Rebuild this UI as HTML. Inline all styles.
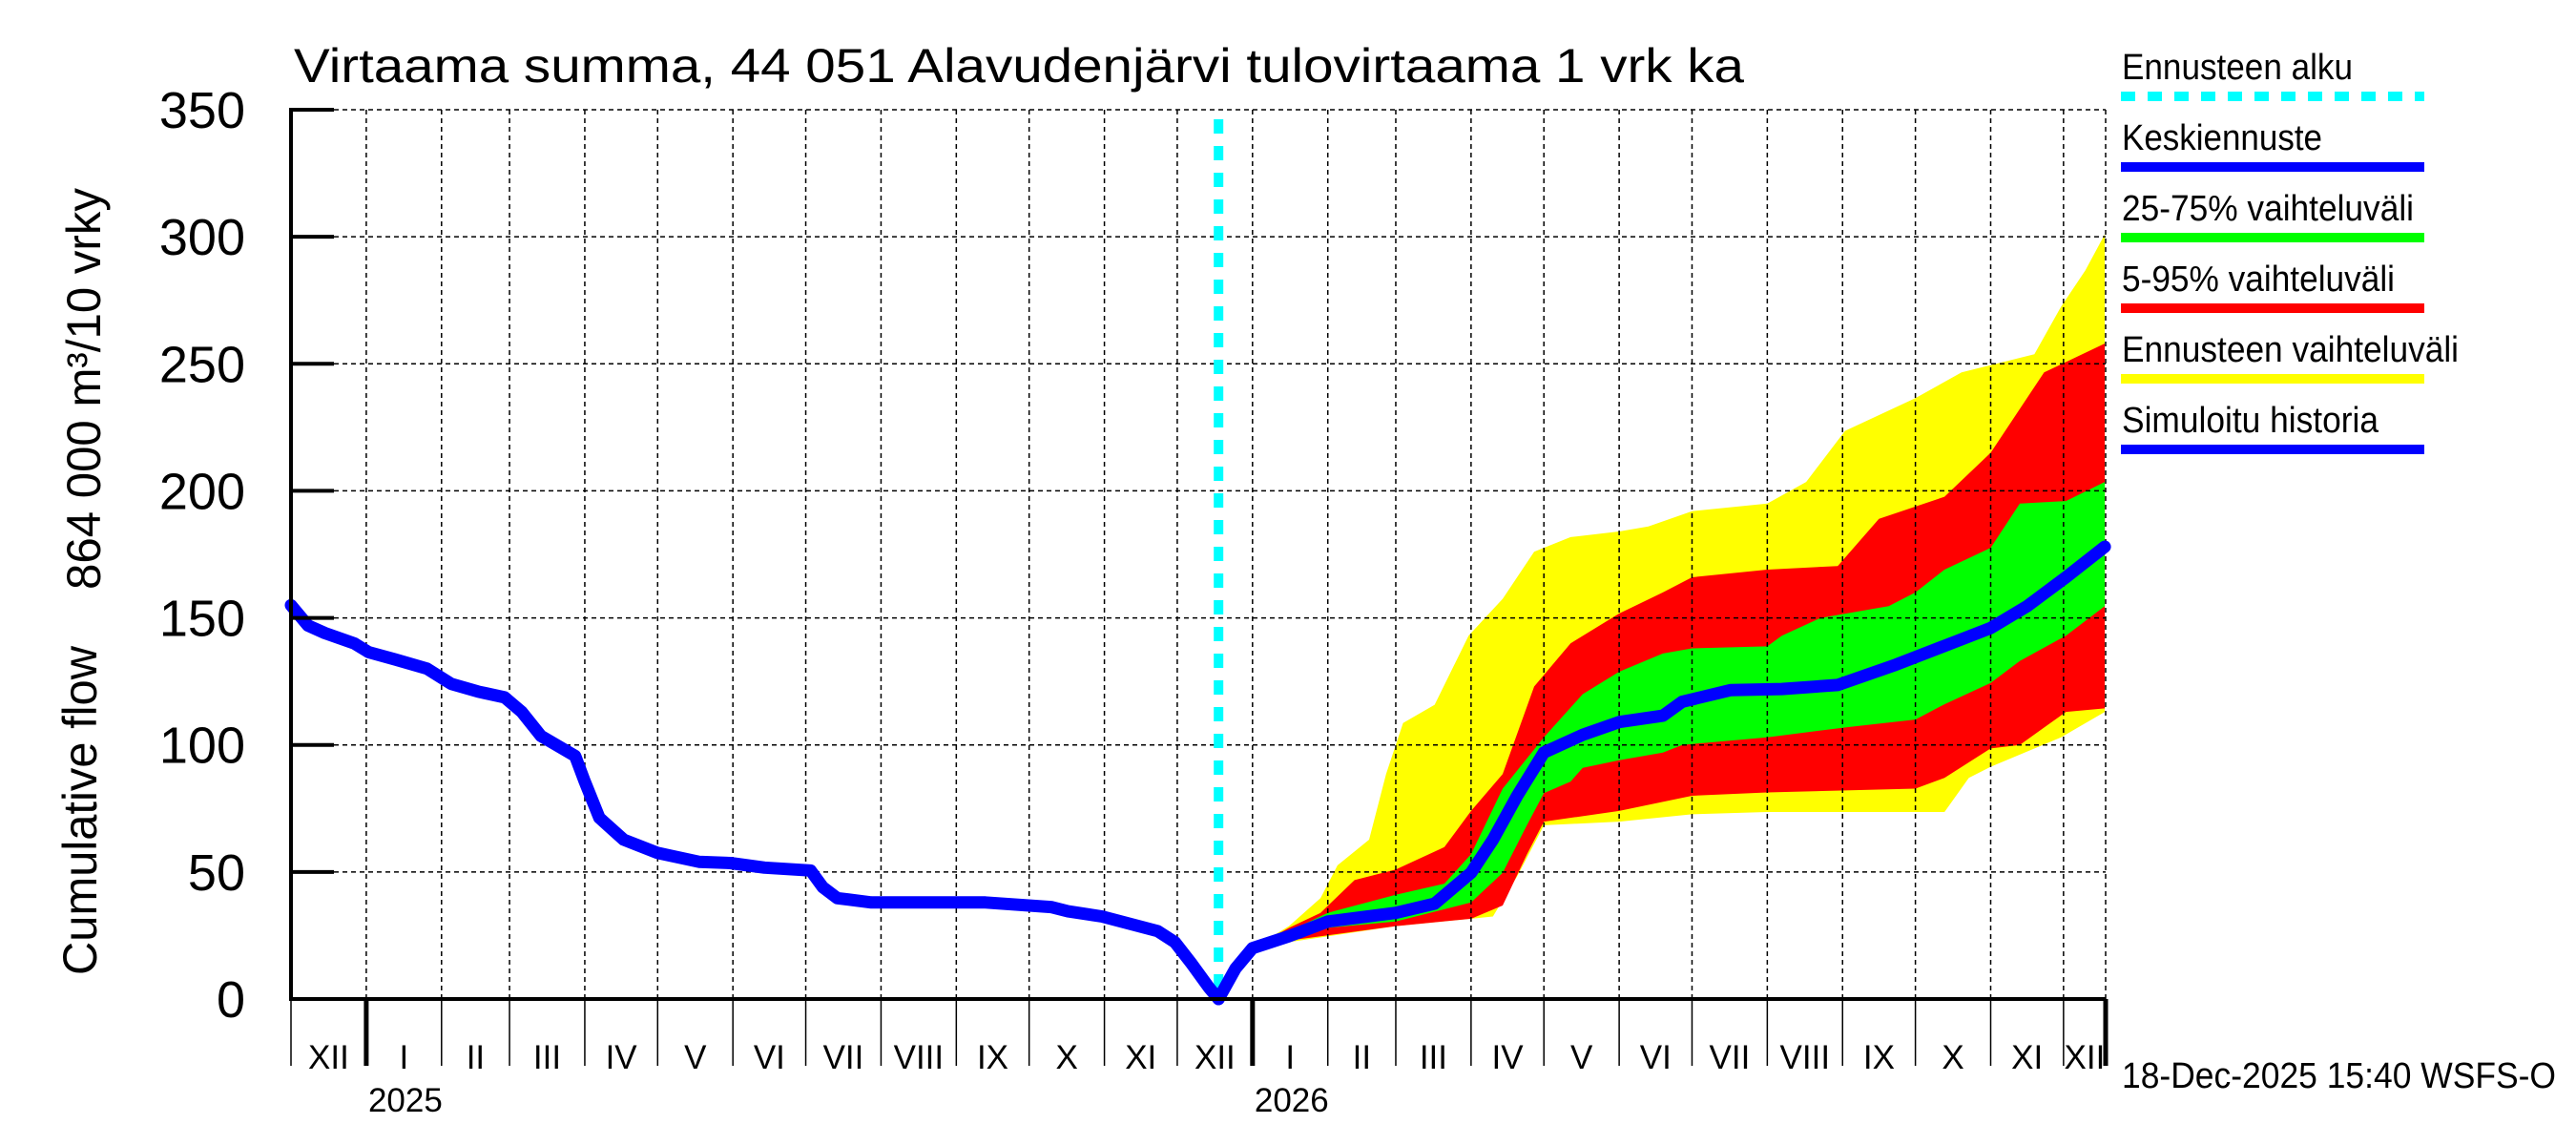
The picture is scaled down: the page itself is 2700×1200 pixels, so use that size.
<!DOCTYPE html>
<html><head><meta charset="utf-8">
<style>
html,body{margin:0;padding:0;background:#fff;}
svg{display:block;font-family:"Liberation Sans",sans-serif;}
</style></head>
<body>
<svg id="chart" width="2700" height="1200" viewBox="0 0 2700 1200" xmlns="http://www.w3.org/2000/svg">
<rect x="0" y="0" width="2700" height="1200" fill="#fff"/>
<text x="308" y="86" font-size="50" textLength="1520" lengthAdjust="spacingAndGlyphs">Virtaama summa, 44 051 Alavudenjärvi tulovirtaama 1 vrk ka</text>
<g id="bands"></g>
<g id="grid"></g>
<g id="lines"></g>
<g id="axes"></g>
<g id="legend"></g>
<text x="0" y="0" font-size="50" textLength="345" lengthAdjust="spacingAndGlyphs" transform="translate(101,1022) rotate(-90)">Cumulative flow</text>
<text x="0" y="0" font-size="50" textLength="421" lengthAdjust="spacingAndGlyphs" transform="translate(105,618) rotate(-90)">864 000 m³/10 vrky</text>
<text x="2224" y="1140" font-size="38" textLength="455" lengthAdjust="spacingAndGlyphs">18-Dec-2025 15:40 WSFS-O</text>
</svg>
<script>
// ---- data (day = days since 1 Dec 2024) ----
const histDays = [0,7,14,26,32,43,56,66,77,88,95,103,117,121,127,137,151,168,181,195,214,219,225,239,286,313,320,334,357,364,371,378,382];
const histVals = [155,147,144,140,136.5,133.6,130,124,121,118.7,113,103.5,95.7,85.6,71.3,62.7,57.5,54,53.5,51.7,50.6,44,39.7,38,38,36.2,34.5,32.5,26.7,22.4,13.8,4.6,0];
const medDays = [382,389,396,411,427,455,471,486,495,505,516,532,547,565,573,593,614,637,661,681,700,715,731,747];
const medVals = [0,12,20,24.7,30.5,33.9,37.5,49.7,62.7,80,97,104,109,111.5,117,121.6,122,123.6,131.6,139,146,154.6,166,178];
const p75Days = [382,396,411,427,455,475,486,499,516,532,547,565,577,608,614,630,658,669,681,700,712,731,747];
const p75Vals = [0,20,26.7,33.9,41,45.4,57,82.8,103,120,128.8,136,138,138.8,143,150,154.6,160,169,177.6,195,196,203.5];
const p25Days = [382,396,411,427,455,486,499,509,516,527,532,547,565,573,608,641,669,681,700,712,731,747];
const p25Vals = [0,20,24,28,30.5,38,49.7,68.4,81,85.6,91,94,97,100,103,107,110,116,124.4,133,143,154.6];
const p95Days = [382,396,411,424,438,455,475,486,499,512,527,547,565,577,608,637,654,681,700,722,747];
const p95Vals = [0,20,28,33.9,46.8,51,59.8,74,88.5,123,140,151.7,160,166,169,170.4,189,197.7,215,246.6,258];
const p05Days = [382,396,411,455,486,499,509,516,547,577,608,669,681,700,712,731,747];
const p05Vals = [0,20,23,28.7,31.6,36.8,56.9,69.8,74,80,81.3,82.8,87,98.6,100,113,114.4];
const maxDays = [382,396,411,424,431,444,451,458,471,485,499,512,527,547,559,577,608,624,640,669,688,718,729,739,747];
const maxVals = [0,20,28.7,39.7,52.6,62.7,88.5,108.6,115.8,143,157.5,176,181.8,184,186,192,195,203.5,223.6,236.5,246.6,253.8,272.5,286.8,301];
const minDays = [382,396,411,455,486,495,505,516,547,577,608,681,691,700,729,747];
const minVals = [0,20,22.4,28.7,31.6,32.5,48.3,68.4,69.8,72.7,73.6,73.6,87,91.4,103,113];
const forecastStartDay = 382;
const yTicks = [0,50,100,150,200,250,300,350];
const monthLabels = ["XII","I","II","III","IV","V","VI","VII","VIII","IX","X","XI","XII","I","II","III","IV","V","VI","VII","VIII","IX","X","XI","XII"];
const yearLabels = ["2025","2026"];

// ---- scales ----
const X0 = 305, X1 = 2207, PXD = 2.545, Y0 = 1047, Y1 = 115, VMAX = 350;
function xs(d){ return X0 + d*PXD; }
function ys(v){ return Y0 - v*(Y0-Y1)/VMAX; }
const NS = "http://www.w3.org/2000/svg";
function mk(tag, attrs, parent){ const e=document.createElementNS(NS,tag); for(const k in attrs) e.setAttribute(k,attrs[k]); parent.appendChild(e); return e; }
const bands=document.getElementById('bands'), grid=document.getElementById('grid'), lines=document.getElementById('lines'), axes=document.getElementById('axes'), legend=document.getElementById('legend');

function band(upD,upV,loD,loV,color,name){
  let pts=[];
  for(let i=0;i<upD.length;i++) pts.push(xs(upD[i]).toFixed(1)+","+ys(upV[i]).toFixed(1));
  for(let i=loD.length-1;i>=0;i--) pts.push(xs(loD[i]).toFixed(1)+","+ys(loV[i]).toFixed(1));
  const p=mk('polygon',{points:pts.join(' '),fill:color},bands);
  
  
}
band(maxDays,maxVals,minDays,minVals,'#ffff00','forecast-range-band');
band(p95Days,p95Vals,p05Days,p05Vals,'#ff0000','band-5-95');
band(p75Days,p75Vals,p25Days,p25Vals,'#00ff00','band-25-75');

// month boundaries
const start=new Date(Date.UTC(2024,11,1));
const bounds=[];
for(let m=0;m<=25;m++){ const d=new Date(Date.UTC(2024,11+m,1)); bounds.push({day:(d-start)/86400000, month:d.getUTCMonth()}); }
for(let i=0;i<bounds.length;i++){
  const x=Math.min(xs(bounds[i].day),X1);
  if(i>0 && x<X1){
    const g=mk('line',{x1:x,y1:Y1,x2:x,y2:Y0,stroke:'#000','stroke-width':1.5,'stroke-dasharray':'5,4'},grid);
    
    
  }
  const jan = bounds[i].month===0;
  const t=mk('line',{x1:x,y1:Y0,x2:x,y2:1117,stroke:'#000','stroke-width':jan?5:1.5},axes);
  
  
  if(i<monthLabels.length){
    const xe=Math.min(xs(bounds[i+1].day),X1);
    const lb=mk('text',{x:(x+xe)/2,y:1120,'font-size':35,'text-anchor':'middle'},axes);
    lb.textContent=monthLabels[i];
    
    
  }
}
let yi=0;
for(let i=0;i<bounds.length;i++){
  if(bounds[i].month===0 && yi<yearLabels.length){
    const yl=mk('text',{x:xs(bounds[i].day)+41,y:1165,'font-size':35,'text-anchor':'middle'},axes);
    yl.textContent=yearLabels[yi++];
    
    
  }
}
// right border
const rb=mk('line',{x1:X1,y1:Y1,x2:X1,y2:Y0,stroke:'#000','stroke-width':1.5,'stroke-dasharray':'5,4'},grid);


// y grid & ticks
yTicks.forEach(v=>{
  const y=ys(v);
  if(v>0){
    const g=mk('line',{x1:X0,y1:y,x2:X1,y2:y,stroke:'#000','stroke-width':1.5,'stroke-dasharray':'5,4'},grid);
    
    
    const t=mk('line',{x1:X0,y1:y,x2:X0+45,y2:y,stroke:'#000','stroke-width':4},axes);
    
    
  }
  const lb=mk('text',{x:257,y:y+19,'font-size':54,'text-anchor':'end'},axes);
  lb.textContent=String(v);
  
  
});
const ax1=mk('line',{x1:X0,y1:Y1-2,x2:X0,y2:Y0+2,stroke:'#000','stroke-width':4},axes);


const ax2=mk('line',{x1:X0,y1:Y0,x2:X1,y2:Y0,stroke:'#000','stroke-width':4},axes);



// lines
function pl(D,V,name){
  const pts=D.map((d,i)=>xs(d).toFixed(1)+","+ys(V[i]).toFixed(1)).join(' ');
  const p=mk('polyline',{points:pts,fill:'none',stroke:'#0000ff','stroke-width':13,'stroke-linejoin':'round','stroke-linecap':'round'},lines);
  
  
}
const fx=xs(forecastStartDay);
const cy=mk('line',{x1:fx,y1:125,x2:fx,y2:Y0,stroke:'#00ffff','stroke-width':10,'stroke-dasharray':'15,13'},lines);


pl(histDays,histVals,'simulated-history-line');
pl(medDays,medVals,'median-forecast-line');

// legend
const leg=[["Ennusteen alku","#00ffff",242,true],["Keskiennuste","#0000ff",210],["25-75% vaihteluväli","#00ff00",306],["5-95% vaihteluväli","#ff0000",286],["Ennusteen vaihteluväli","#ffff00",353],["Simuloitu historia","#0000ff",269]];
leg.forEach((e,i)=>{
  const by=83+i*74;
  const t=mk('text',{x:2224,y:by,'font-size':38,textLength:e[2],lengthAdjust:'spacingAndGlyphs'},legend);
  t.textContent=e[0];
  
  
  const a={x1:2223,y1:by+18,x2:2541,y2:by+18,stroke:e[1],'stroke-width':10};
  if(e[3]) a['stroke-dasharray']='15,13';
  const l=mk('line',a,legend);
  
  
});
</script>
</body></html>
